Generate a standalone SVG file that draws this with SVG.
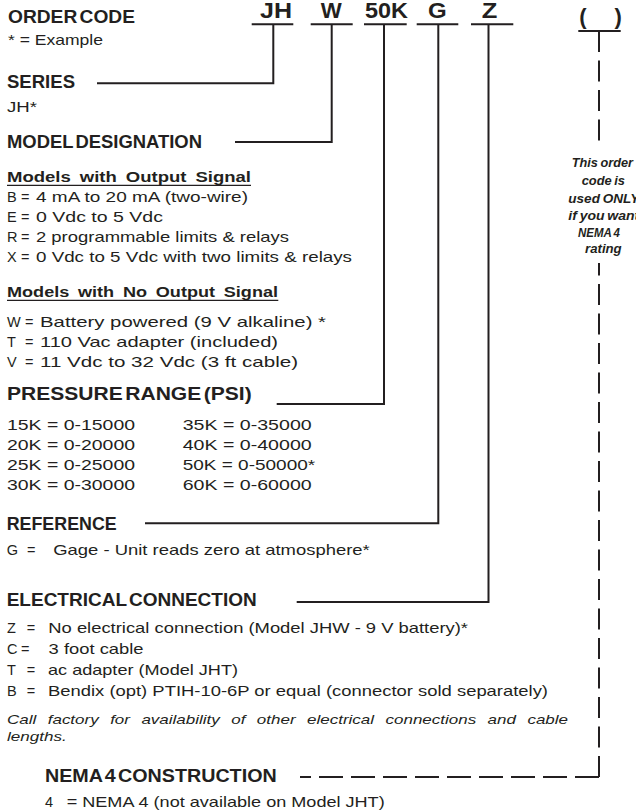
<svg xmlns="http://www.w3.org/2000/svg" width="636" height="810" viewBox="0 0 636 810">
<style>
text{font-family:"Liberation Sans",Arial,Helvetica,sans-serif;fill:#231f20}
.h{font-weight:bold;font-size:19px;word-spacing:-3px}
.t{font-size:14.5px}
.s{font-weight:bold;font-size:14.5px;word-spacing:3px}
.c{font-weight:bold;font-size:21.5px}
.p{font-weight:bold;font-size:22px}
.n{font-weight:bold;font-style:italic;font-size:12.5px;word-spacing:-1px}
.i{font-style:italic;font-size:13.6px;word-spacing:5.4px}
.ln{stroke:#231f20;stroke-width:2;fill:none}
.ul{stroke:#231f20;stroke-width:1.3}
.d1{stroke-dasharray:21 8.5}
.d2{stroke-dasharray:24 8}
</style>
<rect width="636" height="810" fill="#fff"/>

<g id="connectors">
  <path class="ln" d="M251.7,24.3H293.3M310.7,24.3H352.7M364,24.3H406.7M416.7,24.3H458.3M471,24.3H513.3M578.3,31H620.7"/>
  <path class="ln" d="M273.3,24.3V83.3H97"/>
  <path class="ln" d="M331.7,24.3V142H235"/>
  <path class="ln" d="M384,24.3V404H276.7"/>
  <path class="ln" d="M438.3,24.3V523.3H145"/>
  <path class="ln" d="M488.5,24.3V602H296.7"/>
  <path class="ln d1" d="M599,31V148"/>
  <path class="ln d1" d="M599,777V263"/>
  <path class="ln d2" d="M599,777H300"/>
</g>

<g id="order-code">
  <text class="h" x="8" y="22.7" textLength="127" lengthAdjust="spacingAndGlyphs">ORDER CODE</text>
  <text class="t" x="8" y="45" textLength="95" lengthAdjust="spacingAndGlyphs">* = Example</text>
</g>

<g id="code-letters">
  <text class="c" x="260" y="18.3" textLength="32" lengthAdjust="spacingAndGlyphs">JH</text>
  <text class="c" x="320.7" y="18.3" textLength="21" lengthAdjust="spacingAndGlyphs">W</text>
  <text class="c" x="365" y="18.3" textLength="43" lengthAdjust="spacingAndGlyphs">50K</text>
  <text class="c" x="428" y="18.3" textLength="18.7" lengthAdjust="spacingAndGlyphs">G</text>
  <text class="c" x="481.7" y="18.3" textLength="15.6" lengthAdjust="spacingAndGlyphs">Z</text>
  <text class="p" x="579.3" y="23.5">(</text>
  <text class="p" x="614.4" y="23.5">)</text>
</g>

<g id="nema-note">
  <text class="n" x="571.7" y="167.3" textLength="61.3" lengthAdjust="spacingAndGlyphs">This order</text>
  <text class="n" x="581.7" y="185" textLength="43.3" lengthAdjust="spacingAndGlyphs">code is</text>
  <text class="n" x="568.3" y="202.7" textLength="71" lengthAdjust="spacingAndGlyphs">used ONLY</text>
  <text class="n" x="568.3" y="220" textLength="71" lengthAdjust="spacingAndGlyphs">if you want</text>
  <text class="n" x="578" y="236.7" textLength="42" lengthAdjust="spacingAndGlyphs">NEMA 4</text>
  <text class="n" x="585" y="253" textLength="36.7" lengthAdjust="spacingAndGlyphs">rating</text>
</g>

<g id="series">
  <text class="h" x="7" y="88.3" textLength="68" lengthAdjust="spacingAndGlyphs">SERIES</text>
  <text class="t" x="7" y="111.7" textLength="30" lengthAdjust="spacingAndGlyphs">JH*</text>
</g>

<g id="model-designation">
  <text class="h" x="7" y="147.5" textLength="195" lengthAdjust="spacingAndGlyphs">MODEL DESIGNATION</text>
  <text class="s" x="7" y="181.7" textLength="244" lengthAdjust="spacingAndGlyphs">Models with Output Signal</text>
  <line class="ul" x1="7" y1="185.3" x2="251" y2="185.3"/>
  <text class="t" x="7" y="201.7">B</text><text class="t" x="21" y="201.7">=</text>
  <text class="t" x="36" y="201.7" textLength="212" lengthAdjust="spacingAndGlyphs">4 mA to 20 mA (two-wire)</text>
  <text class="t" x="7" y="221.7">E</text><text class="t" x="21" y="221.7">=</text>
  <text class="t" x="36" y="221.7" textLength="127" lengthAdjust="spacingAndGlyphs">0 Vdc to 5 Vdc</text>
  <text class="t" x="7" y="241.7">R</text><text class="t" x="21" y="241.7">=</text>
  <text class="t" x="36" y="241.7" textLength="253" lengthAdjust="spacingAndGlyphs">2 programmable limits &amp; relays</text>
  <text class="t" x="7" y="261.7">X</text><text class="t" x="21" y="261.7">=</text>
  <text class="t" x="36" y="261.7" textLength="316" lengthAdjust="spacingAndGlyphs">0 Vdc to 5 Vdc with two limits &amp; relays</text>
  <text class="s" x="7" y="296.7" textLength="271" lengthAdjust="spacingAndGlyphs">Models with No Output Signal</text>
  <line class="ul" x1="7" y1="300.3" x2="278.3" y2="300.3"/>
  <text class="t" x="7" y="326.7">W</text><text class="t" x="25" y="326.7">=</text>
  <text class="t" x="40" y="326.7" textLength="286" lengthAdjust="spacingAndGlyphs">Battery powered (9 V alkaline) *</text>
  <text class="t" x="7" y="346.7">T</text><text class="t" x="25" y="346.7">=</text>
  <text class="t" x="40" y="346.7" textLength="238" lengthAdjust="spacingAndGlyphs">110 Vac adapter (included)</text>
  <text class="t" x="7" y="366.7">V</text><text class="t" x="25" y="366.7">=</text>
  <text class="t" x="40" y="366.7" textLength="258" lengthAdjust="spacingAndGlyphs">11 Vdc to 32 Vdc (3 ft cable)</text>
</g>

<g id="pressure-range">
  <text class="h" x="7" y="400" textLength="244.7" lengthAdjust="spacingAndGlyphs">PRESSURE RANGE (PSI)</text>
  <text class="t" x="7" y="430" textLength="128" lengthAdjust="spacingAndGlyphs">15K = 0-15000</text>
  <text class="t" x="7" y="450" textLength="128" lengthAdjust="spacingAndGlyphs">20K = 0-20000</text>
  <text class="t" x="7" y="470" textLength="128" lengthAdjust="spacingAndGlyphs">25K = 0-25000</text>
  <text class="t" x="7" y="490" textLength="128" lengthAdjust="spacingAndGlyphs">30K = 0-30000</text>
  <text class="t" x="182.7" y="430" textLength="129" lengthAdjust="spacingAndGlyphs">35K = 0-35000</text>
  <text class="t" x="182.7" y="450" textLength="129" lengthAdjust="spacingAndGlyphs">40K = 0-40000</text>
  <text class="t" x="182.7" y="470" textLength="132.5" lengthAdjust="spacingAndGlyphs">50K = 0-50000*</text>
  <text class="t" x="182.7" y="490" textLength="129" lengthAdjust="spacingAndGlyphs">60K = 0-60000</text>
</g>

<g id="reference">
  <text class="h" x="6.7" y="530" textLength="110" lengthAdjust="spacingAndGlyphs">REFERENCE</text>
  <text class="t" x="6.7" y="555">G</text><text class="t" x="27" y="555">=</text>
  <text class="t" x="53.3" y="555" textLength="316.4" lengthAdjust="spacingAndGlyphs">Gage - Unit reads zero at atmosphere*</text>
</g>

<g id="electrical-connection">
  <text class="h" x="6.7" y="606" textLength="250" lengthAdjust="spacingAndGlyphs">ELECTRICAL CONNECTION</text>
  <text class="t" x="7" y="632.7">Z</text><text class="t" x="26.7" y="632.7">=</text>
  <text class="t" x="48.3" y="632.7" textLength="419.7" lengthAdjust="spacingAndGlyphs">No electrical connection (Model JHW - 9 V battery)*</text>
  <text class="t" x="7" y="654">C</text><text class="t" x="21" y="654">=</text>
  <text class="t" x="48.6" y="654" textLength="95" lengthAdjust="spacingAndGlyphs">3 foot cable</text>
  <text class="t" x="7" y="675">T</text><text class="t" x="26.7" y="675">=</text>
  <text class="t" x="48" y="675" textLength="190" lengthAdjust="spacingAndGlyphs">ac adapter (Model JHT)</text>
  <text class="t" x="7" y="696">B</text><text class="t" x="26.7" y="696">=</text>
  <text class="t" x="48" y="696" textLength="500" lengthAdjust="spacingAndGlyphs">Bendix (opt) PTIH-10-6P or equal (connector sold separately)</text>
  <text class="i" x="7" y="724" textLength="561" lengthAdjust="spacingAndGlyphs">Call factory for availability of other electrical connections and cable</text>
  <text class="i" x="7" y="740.7" textLength="59.7" lengthAdjust="spacingAndGlyphs">lengths.</text>
</g>

<g id="nema4-construction">
  <text class="h" x="45" y="781.7" textLength="231.7" lengthAdjust="spacingAndGlyphs">NEMA 4 CONSTRUCTION</text>
  <text class="t" x="45" y="806.7">4</text>
  <text class="t" x="66.7" y="806.7" textLength="318" lengthAdjust="spacingAndGlyphs">= NEMA 4  (not available on Model JHT)</text>
</g>
</svg>
